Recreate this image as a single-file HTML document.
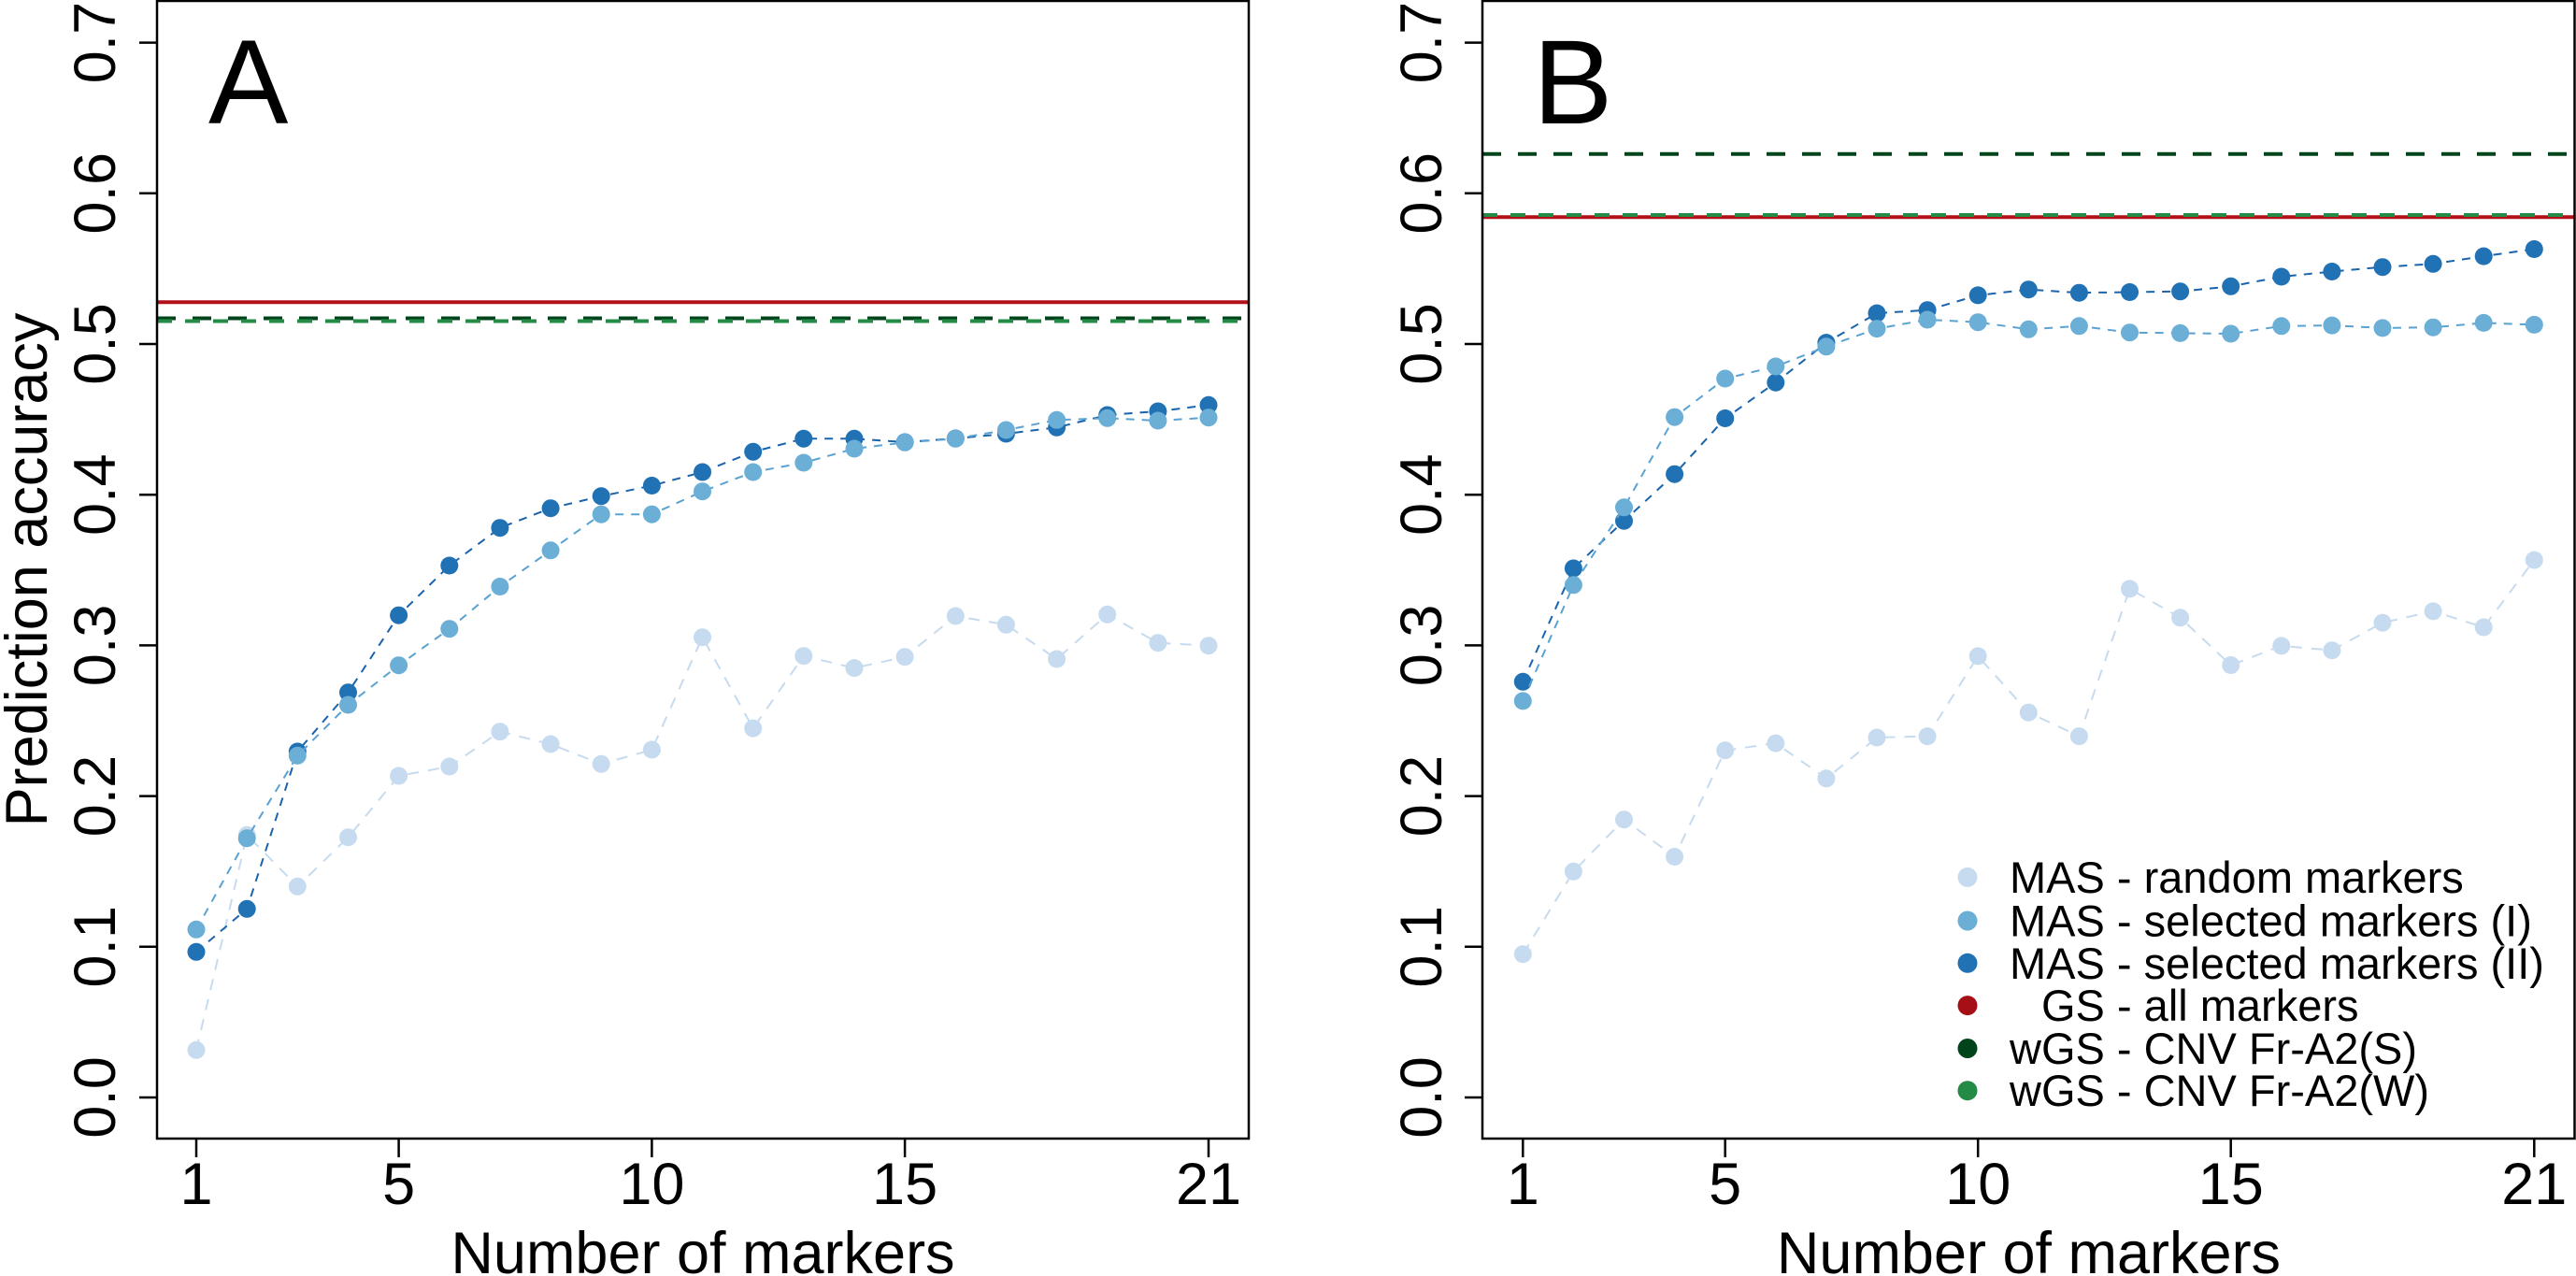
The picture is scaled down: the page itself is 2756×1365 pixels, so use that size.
<!DOCTYPE html>
<html>
<head>
<meta charset="utf-8">
<style>
  html, body { margin:0; padding:0; background:#fff; }
  svg { display:block; }
  text { font-family: "Liberation Sans", Arial, sans-serif; fill:#000; }
</style>
</head>
<body>
<svg width="2756" height="1365" viewBox="0 0 2756 1365" xmlns="http://www.w3.org/2000/svg">
  <defs>
    <marker id="mR" markerWidth="20" markerHeight="20" refX="10" refY="10" markerUnits="userSpaceOnUse" overflow="visible">
      <circle cx="10" cy="10" r="9.5" fill="#c6dbef"/>
    </marker>
    <marker id="mI" markerWidth="20" markerHeight="20" refX="10" refY="10" markerUnits="userSpaceOnUse" overflow="visible">
      <circle cx="10" cy="10" r="9.5" fill="#6baed6"/>
    </marker>
    <marker id="mII" markerWidth="20" markerHeight="20" refX="10" refY="10" markerUnits="userSpaceOnUse" overflow="visible">
      <circle cx="10" cy="10" r="9.5" fill="#2171b5"/>
    </marker>
    <clipPath id="clipA"><rect x="168" y="1" width="1168" height="1217"/></clipPath>
    <clipPath id="clipB"><rect x="1586" y="1" width="1169" height="1217"/></clipPath>
  </defs>

  <rect x="0" y="0" width="2756" height="1365" fill="#fff"/>

  <!-- ================= PANEL A ================= -->
  <g clip-path="url(#clipA)">
    <line x1="168" y1="323.3" x2="1336" y2="323.3" stroke="#b3101a" stroke-width="4"/>
    <line x1="168" y1="340.5" x2="1336" y2="340.5" stroke="#00441b" stroke-width="4" stroke-dasharray="20 18"/>
    <line x1="168" y1="343.5" x2="1336" y2="343.5" stroke="#238b45" stroke-width="4" stroke-dasharray="16 14"/>
  </g>

  <polyline fill="none" stroke="#c6dbef" stroke-width="2" stroke-dasharray="12 10"
    marker-start="url(#mR)" marker-mid="url(#mR)" marker-end="url(#mR)"
    points="210,1123.3 264.2,893.3 318.3,948.3 372.5,895.7 426.6,830 480.8,820 534.9,782.7 589.1,796 643.2,817.3 697.4,802 751.5,681.7 805.7,779.1 859.8,701.7 914,714.6 968.1,702.7 1022.3,659 1076.4,668.3 1130.6,705 1184.7,657.3 1238.9,687.7 1293,690.7"/>
  <polyline fill="none" stroke="#1a64ad" stroke-width="2" stroke-dasharray="9 8"
    marker-start="url(#mII)" marker-mid="url(#mII)" marker-end="url(#mII)"
    points="210,1018.3 264.2,972.3 318.3,804 372.5,740.7 426.6,658.2 480.8,605 534.9,564.7 589.1,543.7 643.2,530.8 697.4,519.5 751.5,505 805.7,483.3 859.8,469.3 914,469.3 968.1,473 1022.3,469 1076.4,464 1130.6,457.3 1184.7,444 1238.9,440 1293,433.3"/>
  <polyline fill="none" stroke="#5aa2d2" stroke-width="2" stroke-dasharray="9 8"
    marker-start="url(#mI)" marker-mid="url(#mI)" marker-end="url(#mI)"
    points="210,994.3 264.2,896.7 318.3,808.3 372.5,754 426.6,711.7 480.8,672.7 534.9,627.5 589.1,588.8 643.2,550.2 697.4,550.2 751.5,525.7 805.7,505 859.8,495 914,480 968.1,473.3 1022.3,469.3 1076.4,460 1130.6,449.3 1184.7,447.3 1238.9,450 1293,446.7"/>

  <!-- box A -->
  <rect x="168" y="1" width="1168" height="1217" fill="none" stroke="#000" stroke-width="2.5"/>
  <!-- y ticks A -->
  <g stroke="#000" stroke-width="2.5">
    <line x1="149" y1="1174" x2="168" y2="1174"/>
    <line x1="149" y1="1012.8" x2="168" y2="1012.8"/>
    <line x1="149" y1="851.6" x2="168" y2="851.6"/>
    <line x1="149" y1="690.4" x2="168" y2="690.4"/>
    <line x1="149" y1="529.2" x2="168" y2="529.2"/>
    <line x1="149" y1="368" x2="168" y2="368"/>
    <line x1="149" y1="206.8" x2="168" y2="206.8"/>
    <line x1="149" y1="45.6" x2="168" y2="45.6"/>
    <!-- x ticks A -->
    <line x1="210" y1="1218" x2="210" y2="1238"/>
    <line x1="426.6" y1="1218" x2="426.6" y2="1238"/>
    <line x1="697.4" y1="1218" x2="697.4" y2="1238"/>
    <line x1="968.1" y1="1218" x2="968.1" y2="1238"/>
    <line x1="1293" y1="1218" x2="1293" y2="1238"/>
  </g>
  <g font-size="63" text-anchor="middle">
    <text transform="translate(123,1174) rotate(-90)">0.0</text>
    <text transform="translate(123,1012.8) rotate(-90)">0.1</text>
    <text transform="translate(123,851.6) rotate(-90)">0.2</text>
    <text transform="translate(123,690.4) rotate(-90)">0.3</text>
    <text transform="translate(123,529.2) rotate(-90)">0.4</text>
    <text transform="translate(123,368) rotate(-90)">0.5</text>
    <text transform="translate(123,206.8) rotate(-90)">0.6</text>
    <text transform="translate(123,45.6) rotate(-90)">0.7</text>
    <text x="210" y="1288">1</text>
    <text x="426.6" y="1288">5</text>
    <text x="697.4" y="1288">10</text>
    <text x="968.1" y="1288">15</text>
    <text x="1293" y="1288">21</text>
    <text x="752" y="1362">Number of markers</text>
    <text transform="translate(50,609.5) rotate(-90)">Prediction accuracy</text>
  </g>
  <text x="223" y="132" font-size="128">A</text>

  <!-- ================= PANEL B ================= -->
  <g clip-path="url(#clipB)">
    <line x1="1586" y1="232.3" x2="2755" y2="232.3" stroke="#b3101a" stroke-width="4"/>
    <line x1="1586" y1="164.7" x2="2755" y2="164.7" stroke="#00441b" stroke-width="4" stroke-dasharray="20 18"/>
    <line x1="1586" y1="230" x2="2755" y2="230" stroke="#238b45" stroke-width="4" stroke-dasharray="16 14"/>
  </g>

  <polyline fill="none" stroke="#c6dbef" stroke-width="2" stroke-dasharray="12 10"
    marker-start="url(#mR)" marker-mid="url(#mR)" marker-end="url(#mR)"
    points="1629.3,1020.7 1683.4,932.3 1737.5,876.7 1791.6,916.5 1845.7,802.7 1899.8,795.1 1953.9,832.8 2008,789 2062.1,787.6 2116.2,701.9 2170.3,762.2 2224.4,787.6 2278.5,629.9 2332.6,660.8 2386.7,711.5 2440.8,690.9 2494.9,695.7 2549,666.2 2603.1,653.9 2657.2,671 2711.3,599.1"/>
  <polyline fill="none" stroke="#1a64ad" stroke-width="2" stroke-dasharray="9 8"
    marker-start="url(#mII)" marker-mid="url(#mII)" marker-end="url(#mII)"
    points="1629.3,729.3 1683.4,608 1737.5,557.2 1791.6,507.2 1845.7,447.5 1899.8,409.2 1953.9,366.6 2008,335.1 2062.1,331.7 2116.2,315.9 2170.3,309.7 2224.4,313.2 2278.5,312.5 2332.6,311.8 2386.7,306.3 2440.8,296 2494.9,290.5 2549,285.7 2603.1,282.3 2657.2,274.1 2711.3,266.5"/>
  <polyline fill="none" stroke="#5aa2d2" stroke-width="2" stroke-dasharray="9 8"
    marker-start="url(#mI)" marker-mid="url(#mI)" marker-end="url(#mI)"
    points="1629.3,749.9 1683.4,625.8 1737.5,542.8 1791.6,446.2 1845.7,405 1899.8,392 1953.9,370.8 2008,351.6 2062.1,342 2116.2,344.7 2170.3,352.3 2224.4,348.8 2278.5,355.7 2332.6,356.4 2386.7,357 2440.8,348.8 2494.9,348.1 2549,350.9 2603.1,350.2 2657.2,345.4 2711.3,347.4"/>

  <!-- legend -->
  <circle cx="2105" cy="938.4" r="10.5" fill="#c6dbef"/>
  <circle cx="2105" cy="985" r="10.5" fill="#6baed6"/>
  <circle cx="2105" cy="1030.3" r="10.5" fill="#2171b5"/>
  <circle cx="2105" cy="1075.6" r="10.5" fill="#a50f15"/>
  <circle cx="2105" cy="1121.5" r="10.5" fill="#00441b"/>
  <circle cx="2105" cy="1166.7" r="10.5" fill="#238b45"/>
  <g font-size="47">
    <text x="2150" y="955">MAS - random markers</text>
    <text x="2150" y="1001.5">MAS - selected markers (I)</text>
    <text x="2150" y="1046.8">MAS - selected markers (II)</text>
    <text x="2184" y="1092.1">GS - all markers</text>
    <text x="2150" y="1138">wGS - CNV Fr-A2(S)</text>
    <text x="2150" y="1183.2">wGS - CNV Fr-A2(W)</text>
  </g>

  <!-- box B -->
  <rect x="1586" y="1" width="1168.5" height="1217" fill="none" stroke="#000" stroke-width="2.5"/>
  <g stroke="#000" stroke-width="2.5">
    <line x1="1567" y1="1174" x2="1586" y2="1174"/>
    <line x1="1567" y1="1012.8" x2="1586" y2="1012.8"/>
    <line x1="1567" y1="851.6" x2="1586" y2="851.6"/>
    <line x1="1567" y1="690.4" x2="1586" y2="690.4"/>
    <line x1="1567" y1="529.2" x2="1586" y2="529.2"/>
    <line x1="1567" y1="368" x2="1586" y2="368"/>
    <line x1="1567" y1="206.8" x2="1586" y2="206.8"/>
    <line x1="1567" y1="45.6" x2="1586" y2="45.6"/>
    <line x1="1629.3" y1="1218" x2="1629.3" y2="1238"/>
    <line x1="1845.7" y1="1218" x2="1845.7" y2="1238"/>
    <line x1="2116.2" y1="1218" x2="2116.2" y2="1238"/>
    <line x1="2386.7" y1="1218" x2="2386.7" y2="1238"/>
    <line x1="2711.3" y1="1218" x2="2711.3" y2="1238"/>
  </g>
  <g font-size="63" text-anchor="middle">
    <text transform="translate(1542,1174) rotate(-90)">0.0</text>
    <text transform="translate(1542,1012.8) rotate(-90)">0.1</text>
    <text transform="translate(1542,851.6) rotate(-90)">0.2</text>
    <text transform="translate(1542,690.4) rotate(-90)">0.3</text>
    <text transform="translate(1542,529.2) rotate(-90)">0.4</text>
    <text transform="translate(1542,368) rotate(-90)">0.5</text>
    <text transform="translate(1542,206.8) rotate(-90)">0.6</text>
    <text transform="translate(1542,45.6) rotate(-90)">0.7</text>
    <text x="1629.3" y="1288">1</text>
    <text x="1845.7" y="1288">5</text>
    <text x="2116.2" y="1288">10</text>
    <text x="2386.7" y="1288">15</text>
    <text x="2711.3" y="1288">21</text>
    <text x="2170.5" y="1362">Number of markers</text>
  </g>
  <text x="1640" y="132" font-size="128">B</text>
</svg>
</body>
</html>
